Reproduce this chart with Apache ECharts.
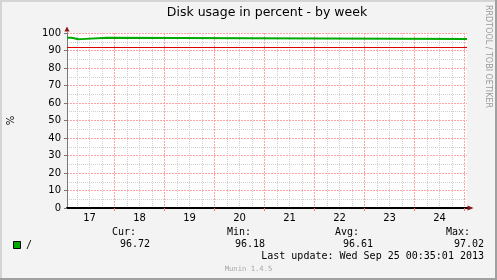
<!DOCTYPE html>
<html><head><meta charset="utf-8">
<script src="https://cdn.jsdelivr.net/npm/echarts@6/dist/echarts.min.js"></script>
<style>html,body{margin:0;padding:0;background:#f3f3f3}#c{width:497px;height:280px}</style>
</head><body><div id="c"></div>
<script>
// x values are hours since Sep 17 00:00
const xStart = 1.2;
const xEnd = 193.2;
const dayLabels = ['17','18','19','20','21','22','23','24'];
const dayNoonHours = [12,36,60,84,108,132,156,180];
const midnightHours = [24,48,72,96,120,144,168,192];
const sixHourTicks = [6,12,18,30,36,42,54,60,66,78,84,90,102,108,114,126,132,138,150,156,162,174,180,186];

const usageTimes  = [1.2, 3.2, 4.6, 6.6, 7.1, 8.0, 20.4, 193.2];
const usageValues = [97.3, 97.0, 96.4, 97.0, 96.5, 97.25, 96.6, 96.6];
const warningLevel = 92;

const seriesName = '/';
const statNames = ['Cur:','Min:','Avg:','Max:'];
const statValues = ['96.72','96.18','96.61','97.02'];
const lastUpdate = 'Last update: Wed Sep 25 00:35:01 2013';
const titleText = 'Disk usage in percent - by week';

const SANS = 'DejaVu Sans';
const MONO = 'DejaVu Sans Mono';
const ARROW = '#8b1414';
const GREEN = '#00aa00';
const MAJOR = '#ffa4a4';
const MINOR = '#cfcfcf';

const chart = echarts.init(document.getElementById('c'), null, {renderer:'canvas'});

const statX = [135, 250, 358, 469];
const graphic = [
  {type:'rect', shape:{x:0,y:0,width:2,height:280}, style:{fill:'#d4d4d4'}, silent:true},
  {type:'rect', shape:{x:0,y:0,width:497,height:2}, style:{fill:'#d4d4d4'}, silent:true},
  {type:'rect', shape:{x:495,y:0,width:2,height:280}, style:{fill:'#a0a0a0'}, silent:true},
  {type:'rect', shape:{x:0,y:278,width:497,height:2}, style:{fill:'#a0a0a0'}, silent:true},
  {type:'text', x:267, y:13, style:{text:titleText, font:'12.5px "'+SANS+'"', fill:'#000', align:'center', verticalAlign:'middle'}},
  {type:'text', x:488, y:56.5, rotation:-Math.PI/2, style:{text:'RRDTOOL / TOBI OETIKER', font:'8px "'+SANS+'"', fill:'#9a9a9a', align:'center', verticalAlign:'middle'}},
  {type:'rect', shape:{x:13.5,y:241.5,width:7,height:7}, style:{fill:GREEN, stroke:'#000', lineWidth:1}},
  {type:'text', x:26, y:245, style:{text:seriesName, font:'10px "'+MONO+'"', fill:'#000', align:'left', verticalAlign:'middle'}},
  {type:'text', x:484, y:256.5, style:{text:lastUpdate, font:'10px "'+MONO+'"', fill:'#000', align:'right', verticalAlign:'middle'}},
  {type:'text', x:248.5, y:269, style:{text:'Munin 1.4.5', font:'7.2px "'+MONO+'"', fill:'#a8a8a8', align:'center', verticalAlign:'middle'}}
];
statNames.forEach((n,i)=>{
  graphic.push({type:'text', x:statX[i]+1, y:232, style:{text:n, font:'10px "'+MONO+'"', fill:'#000', align:'right', verticalAlign:'middle'}});
  graphic.push({type:'text', x:statX[i]+15, y:244.7, style:{text:statValues[i], font:'10px "'+MONO+'"', fill:'#000', align:'right', verticalAlign:'middle'}});
});

const baseX = {type:'value', min:xStart, max:xEnd, position:'bottom', axisLabel:{show:false}, axisTick:{show:false}, axisLine:{show:false}, splitLine:{show:false}};

const option = {
  backgroundColor:'#f3f3f3',
  animation:false,
  grid:{left:67, right:30, top:33, bottom:72, show:true, backgroundColor:'#ffffff', borderWidth:0, containLabel:false, outerBoundsMode:'none'},
  xAxis:[
    Object.assign({}, baseX, { // minor 6h grid
      axisTick:{show:false, customValues:sixHourTicks},
      splitLine:{show:true, lineStyle:{color:MINOR, type:[1,1], width:1}}
    }),
    Object.assign({}, baseX, { // midnight major grid + main axis line
      z:3,
      axisLine:{show:true, onZero:false, lineStyle:{color:'#000', width:2}},
      axisTick:{show:true, customValues:midnightHours, length:3, lineStyle:{color:'#ff7070'}},
      splitLine:{show:true, lineStyle:{color:MAJOR, type:[2,1], width:1}}
    }),
    Object.assign({}, baseX, { // day labels
      axisLabel:{show:true, customValues:dayNoonHours, margin:5, fontFamily:SANS, fontSize:10, color:'#000',
        formatter:(v)=>{const i=dayNoonHours.indexOf(Math.round(v)); return i>=0?dayLabels[i]:'';}}
    }),
    Object.assign({}, baseX, { // arrow
      z:0,
      axisLine:{show:true, onZero:false, symbol:['none','triangle'], symbolSize:[5,6], symbolOffset:[0,3.5], lineStyle:{color:ARROW, width:1}}
    })
  ],
  yAxis:[
    {type:'value', min:0, max:100, interval:10, position:'left', z:3,
      axisLine:{show:true, onZero:false, lineStyle:{color:'#777', width:1}},
      axisTick:{show:true, length:3, lineStyle:{color:'#777'}},
      axisLabel:{fontFamily:SANS, fontSize:10, color:'#000', margin:6},
      splitLine:{show:true, lineStyle:{color:MAJOR, type:[2,1], width:1}},
      minorTick:{show:false, splitNumber:2},
      minorSplitLine:{show:true, lineStyle:{color:MINOR, type:[1,1], width:1}},
      name:'%', nameLocation:'middle', nameGap:51, nameRotate:90,
      nameTextStyle:{fontFamily:SANS, fontSize:10, color:'#000'}
    },
    {type:'value', min:0, max:100, position:'left', z:0,
      axisLabel:{show:false}, axisTick:{show:false}, splitLine:{show:false},
      axisLine:{show:true, onZero:false, symbol:['none','triangle'], symbolSize:[5,5], symbolOffset:[0,4], lineStyle:{color:ARROW, width:1}}
    }
  ],
  series:[
    {type:'line', name:seriesName, xAxisIndex:1, yAxisIndex:0, step:'end', showSymbol:false, z:5,
      data: usageTimes.map((t,i)=>[t, usageValues[i]]),
      lineStyle:{color:GREEN, width:2},
      markLine:{silent:true, symbol:'none', label:{show:false}, animation:false,
        lineStyle:{color:'#e00000', width:1, type:'solid'},
        data:[{yAxis:warningLevel}]}
    }
  ],
  graphic: graphic
};
chart.setOption(option);
</script></body></html>
